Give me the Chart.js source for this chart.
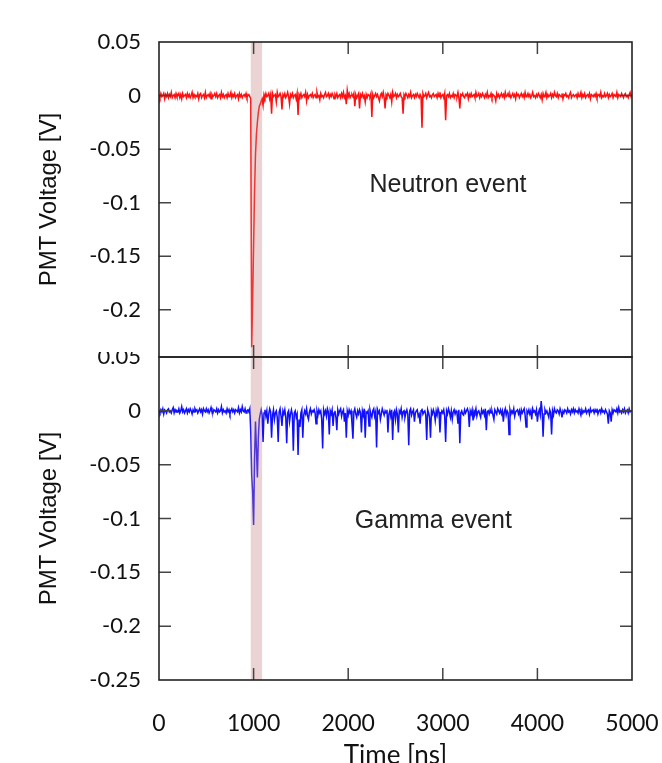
<!DOCTYPE html>
<html>
<head>
<meta charset="utf-8">
<script src="https://cdn.jsdelivr.net/npm/chart.js@4.4.1/dist/chart.umd.min.js"></script>
<style>
  html, body { margin: 0; background: #fff; }
  #wrap { position: relative; width: 662px; height: 763px; overflow: hidden; }
  #topChart { position: absolute; left: 0; top: 0; }
  #botChart { position: absolute; left: 0; top: 352px; }
</style>
</head>
<body>
<div id="wrap">
  <canvas id="topChart" width="662" height="362"></canvas>
  <canvas id="botChart" width="662" height="411"></canvas>
</div>
<script>
// ===== DATA =====
// samples every 10 ns, 0..5000 ns, values in mV
const SAMPLE_NS = 10;

const neutronMV = [
  1, -2, 2, -1, 0, 2, -3, 1, -1, 2,              // 0
  -2, 1, -1, 3, -2, 0, 1, -2, 2, -1,             // 100
  0, 2, -2, 1, -3, 2, -1, 0, 1, -2,              // 200
  2, -1, 1, -2, 0, 3, -2, 1, -1, 0,              // 300
  -1, 2, -3, 1, 2, -2, 0, 1, -2, 3,              // 400
  -2, 0, 1, -1, 2, -3, 1, -1, 0, 2,              // 500
  -1, 2, -2, 0, 1, -2, 3, -1, 1, -2,             // 600
  0, 1, -2, 2, -1, 0, 3, -2, 1, -1,              // 700
  2, -2, 0, 1, -3, 2, -1, 1, -2, 0,              // 800
  1, -1, 2, -2, 0, 1, -1, -3, -235, -190,        // 900
  -140, -90, -55, -36, -25, -16, -10, -8, -5, -3,    // 1000
  -9, 1, -2, 2, -1, 0, 2, -3, 1, -17,            // 1100
  2, -1, 0, 1, -6, 3, -1, 0, 2, -1,              // 1200
  -13, 1, -1, 2, -2, 0, 3, -1, -8, 1,            // 1300
  -1, 2, -2, 0, 1, -3, 2, -18, 1, -1,            // 1400
  2, -2, 0, 1, -1, 3, -5, 1, -2, 0,              // 1500
  1, -1, 2, -2, 0, 1, -2, 3, -1, 0,              // 1600
  -4, 2, -1, 0, -2, 1, 3, -1, 0, 2,              // 1700
  -2, 1, -1, 2, 0, -3, 1, -1, 2, -2,             // 1800
  0, 1, -2, 2, -1, 3, -2, 0, -8, 5,              // 1900
  -1, 2, -2, 0, 1, -1, 2, -10, 1, -2,            // 2000
  0, 2, -12, 1, -1, 2, -2, 0, -6, 1,             // 2100
  -2, 1, 0, -1, 2, -20, 1, -2, 0, 2,             // 2200
  -1, 1, -2, -5, 0, 2, -1, 3, -2, -12,           // 2300
  1, -1, 2, 0, -2, 1, -6, 3, -1, 0,              // 2400
  2, -2, 1, -1, 0, 2, -1, -2, -17, 1,            // 2500
  -1, 2, 0, -2, 1, -1, 3, -2, 0, 1,              // 2600
  -2, 1, -1, 2, 0, -2, 1, -1, -30, 2,            // 2700
  -1, 0, 2, -2, 1, 3, -1, 0, -2, 1,              // 2800
  2, -1, 0, 1, -2, 2, -1, 3, -2, 0,              // 2900
  1, -2, 2, -23, 0, 1, -1, 2, -2, 0,             // 3000
  -1, 2, -2, 1, 0, -1, 3, -2, -12, 1,            // 3100
  0, 2, -1, -2, 1, 0, 2, -3, 1, -1,              // 3200
  2, -1, 0, 1, -2, 3, -1, 0, 2, -2,              // 3300
  1, -1, 2, 0, -2, 1, -1, 3, -2, 0,              // 3400
  -1, 2, -2, 1, 0, -1, -5, 2, -1, 1,             // 3500
  -2, 0, 2, -1, 1, -2, 3, -1, 0, 2,              // 3600
  -1, 1, -2, 0, 2, -1, 1, -3, 2, 0,              // 3700
  1, -2, 0, 2, -1, 1, -2, 3, -1, 0,              // 3800
  2, -1, 1, -2, 0, 3, -1, 0, -2, 1,              // 3900
  -1, 2, 0, -2, 1, -4, 2, -1, 0, 3,              // 4000
  -2, 1, -1, 0, 2, -2, 1, -1, 3, 0,              // 4100
  -1, 2, -2, 1, 0, -1, 2, -3, 1, 0,              // 4200
  2, -1, 0, -2, 1, 3, -2, 0, 1, -1,              // 4300
  0, 1, -2, 2, -1, 0, 3, -2, 1, -1,              // 4400
  2, -2, 0, 1, -1, 2, -3, 1, 0, -1,              // 4500
  1, -1, 2, -2, 0, 1, -1, 3, -2, 0,              // 4600
  -1, 2, -1, 0, 2, -2, 1, -1, 0, 2,              // 4700
  -2, 1, 0, -1, 3, -2, 1, 0, -1, 2,              // 4800
  0, -2, 1, 2, -1, 0, -2, 1, 3, -1,              // 4900
  1                                              // 5000
];

const gammaMV = [
  0, -2, 1, -1, 2, -3, 1, 0, -2, 1,              // 0
  2, -1, 0, -2, 1, 3, -2, 1, -1, 0,              // 100
  -1, 2, -2, 0, 4, -1, 1, -2, 0, 2,              // 200
  -2, 1, -1, 2, 0, -3, 1, -1, 2, 0,              // 300
  1, -2, 0, 2, -1, 1, -3, 2, 0, -1,              // 400
  2, -1, 1, -2, 0, 3, -1, -2, 1, 0,              // 500
  -1, 2, -2, 1, -1, 0, 4, -2, 1, -1,             // 600
  0, -2, 2, -1, 1, -3, 0, 2, -1, 1,              // 700
  -2, 1, 0, -1, 3, -2, 1, -1, 4, 0,              // 800
  -1, 2, -2, 0, 1, -1, 2, -20, -60, -75,         // 900
  -106, -45, -10, -35, -62, -25, -8, -3, 1, -4,  // 1000
  -29, -2, 1, -5, 0, -12, -3, 2, -1, -25,        // 1100
  -4, 1, -8, -2, 0, -6, -29, -1, 2, -5,          // 1200
  -14, 0, -3, 1, -6, -30, -2, 0, -10, -3,        // 1300
  1, -4, -37, -2, 0, -6, -3, -41, -8, -15,       // 1400
  -2, 1, -25, -4, 0, -3, 2, -5, -8, -1,          // 1500
  2, -3, 0, -1, 1, -2, -12, 0, -4, 1,            // 1600
  -2, 0, -8, -35, 1, -3, 0, -5, 2, -1,           // 1700
  -22, 0, -3, 1, -14, -2, 0, -6, -18, 1,         // 1800
  -3, 0, 2, -5, -1, 1, -10, -2, -25, 0,          // 1900
  -4, 1, -2, 0, -12, -26, -1, 2, -3, -6,         // 2000
  0, -3, 1, -2, -20, 0, -4, 2, -25, -1,          // 2100
  -2, 0, -14, 1, -3, -6, 0, 2, -5, -1,           // 2200
  -34, 1, -2, 0, -8, -3, 2, -1, -4, 0,           // 2300
  -2, 1, -20, -3, 0, -5, 1, -27, -2, 0,          // 2400
  -8, 1, -3, -20, 0, -2, 2, -6, -1, 0,           // 2500
  -6, -2, 1, -3, -32, 0, 2, -4, -1, 1,           // 2600
  -10, -2, 0, 1, -5, -3, -12, 0, 2, -3,          // 2700
  -1, 0, -4, -27, 1, -2, -6, -25, 0, -3,         // 2800
  1, -2, -9, 0, -4, 2, -1, -20, -3, 0,           // 2900
  -2, 1, -5, -29, 0, -3, 2, -1, -6, 0,           // 3000
  -8, -1, 1, -3, 0, -2, -12, 1, -30, -2,         // 3100
  0, -3, -4, 1, -2, 0, 2, -1, -15, 0,            // 3200
  -3, 1, -9, 0, -2, 2, -5, -1, 0, -3,            // 3300
  -6, 1, -2, 0, -4, 2, -18, -1, 0, -3,           // 3400
  1, -2, 0, -4, -8, 1, -1, -3, 2, 0,             // 3500
  -2, 1, -3, 0, -10, -1, 2, -4, 0, -2,           // 3600
  -22, 1, -3, 0, -2, 2, -5, -1, 0, 1,            // 3700
  -3, 0, -6, 1, -2, 0, 2, -4, -15, 0,            // 3800
  -2, 1, -3, 0, -8, 2, -1, 0, -3, 1,             // 3900
  -10, -2, 1, -4, 9, 0, -24, -3, 1, -2,          // 4000
  0, -3, -6, 1, -2, -22, 0, -4, 2, -1,           // 4100
  -2, 1, 0, -3, 2, -1, -6, 0, -2, 1,             // 4200
  0, -2, 2, -1, 0, -3, 1, -1, 2, -2,             // 4300
  1, -1, 0, -2, 2, -1, -4, 1, -2, 0,             // 4400
  -1, 2, -2, 0, 1, -3, 2, -1, 0, 1,              // 4500
  -2, 1, -1, 2, -3, 0, 1, -2, 2, -1,             // 4600
  0, -2, 1, -1, -3, -12, 0, -2, -10, 1,          // 4700
  -2, 1, 0, -1, 2, -2, 3, -1, 0, -2,             // 4800
  1, -1, 2, -2, 0, 1, -2, 2, -1, 0,              // 4900
  0                                              // 5000
];

const xTicks = [0, 1000, 2000, 3000, 4000, 5000];
const yTicks = [0.05, 0, -0.05, -0.1, -0.15, -0.2, -0.25];
const shadeNs = [970, 1090];   // highlighted time window

// ===== HELPERS =====
function toPoints(arr) {
  return arr.map((v, i) => ({ x: i * SAMPLE_NS, y: v / 1000 }));
}

function fmt(v) {
  return String(+v.toFixed(2));
}

// shaded window, box frame with inward ticks, event label
const framePlugin = {
  id: 'frame',
  afterDatasetsDraw(chart, args, opts) {
    const { ctx, chartArea: a, scales: { x, y } } = chart;
    ctx.save();
    const x0 = x.getPixelForValue(shadeNs[0]);
    const x1 = x.getPixelForValue(shadeNs[1]);
    ctx.fillStyle = 'rgba(200,130,130,0.35)';
    ctx.fillRect(x0, a.top, x1 - x0, a.bottom - a.top);

    ctx.strokeStyle = '#444';
    ctx.lineWidth = 1.5;
    ctx.beginPath();
    yTicks.forEach(v => {
      if (v <= y.min + 1e-9 || v >= y.max - 1e-9) return;
      const p = y.getPixelForValue(v);
      ctx.moveTo(a.left, p); ctx.lineTo(a.left + 12, p);
      ctx.moveTo(a.right, p); ctx.lineTo(a.right - 12, p);
    });
    xTicks.forEach(v => {
      if (v <= x.min || v >= x.max) return;
      const p = x.getPixelForValue(v);
      ctx.moveTo(p, a.top); ctx.lineTo(p, a.top + 12);
      ctx.moveTo(p, a.bottom); ctx.lineTo(p, a.bottom - 12);
    });
    ctx.stroke();

    ctx.strokeStyle = '#222';
    ctx.lineWidth = 1.6;
    ctx.strokeRect(a.left, a.top, a.right - a.left, a.bottom - a.top);

    ctx.fillStyle = '#222';
    ctx.font = '25px "Liberation Sans", Arial, sans-serif';
    ctx.textAlign = 'center';
    ctx.textBaseline = 'middle';
    ctx.fillText(opts.text, x.getPixelForValue(opts.at[0]), y.getPixelForValue(opts.at[1]));
    ctx.restore();
  }
};

function makeChart(id, data, color, cfg) {
  return new Chart(document.getElementById(id), {
    type: 'line',
    data: {
      datasets: [{
        data: toPoints(data),
        borderColor: color,
        borderWidth: 1.5,
        pointRadius: 0,
        tension: 0
      }]
    },
    options: {
      responsive: false,
      animation: false,
      layout: { padding: cfg.padding },
      plugins: {
        legend: { display: false },
        tooltip: { enabled: false },
        frame: { text: cfg.text, at: cfg.textAt }
      },
      scales: {
        x: {
          type: 'linear',
          min: 0, max: 5000,
          display: cfg.showX,
          grid: { display: false },
          border: { display: false },
          afterBuildTicks: s => { s.ticks = xTicks.map(v => ({ value: v })); },
          afterFit: s => {
            s.height = cfg.xHeight;
            s.paddingLeft = 0; s.paddingRight = 0;
          },
          ticks: {
            color: '#111',
            padding: 22,
            maxRotation: 0,
            callback: v => String(v),
            font: { family: 'Lato, "DejaVu Sans", sans-serif', size: 23 }
          },
          title: {
            display: true,
            text: 'Time [ns]',
            color: '#111',
            padding: { top: 0, bottom: -8 },
            font: { family: 'Lato, "DejaVu Sans", sans-serif', size: 26 }
          }
        },
        y: {
          min: cfg.yMin, max: 0.05,
          grid: { display: false },
          border: { display: false },
          afterBuildTicks: s => {
            s.ticks = yTicks.filter(v => v >= s.min - 1e-9).map(v => ({ value: v }));
          },
          afterFit: s => {
            s.width = 159;
            s.paddingTop = 0; s.paddingBottom = 0;
          },
          ticks: {
            color: '#111',
            padding: 10,
            callback: v => fmt(v),
            font: { family: 'Lato, "DejaVu Sans", sans-serif', size: 22 }
          },
          title: {
            display: true,
            text: 'PMT Voltage [V]',
            color: '#111',
            padding: { top: 35, bottom: 0 },
            font: { family: '"Liberation Sans", Arial, sans-serif', size: 24 }
          }
        }
      }
    },
    plugins: [framePlugin]
  });
}

makeChart('topChart', neutronMV, '#ff1010', {
  padding: { top: 42, right: 30, bottom: 5, left: 0 },
  yMin: -0.244, showX: false, xHeight: 0,
  text: 'Neutron event', textAt: [3055, -0.084]
});

makeChart('botChart', gammaMV, '#1010ff', {
  padding: { top: 5, right: 30, bottom: 0, left: 0 },
  yMin: -0.25, showX: true, xHeight: 83,
  text: 'Gamma event', textAt: [2900, -0.102]
});
</script>
</body>
</html>
